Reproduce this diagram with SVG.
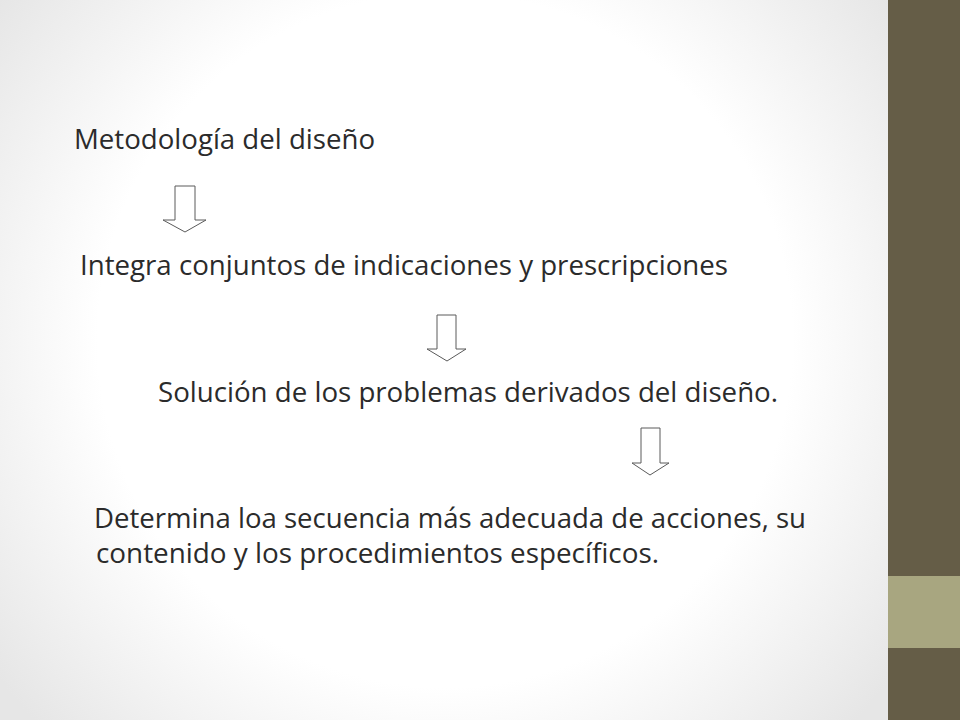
<svg xmlns="http://www.w3.org/2000/svg" width="960" height="720" viewBox="0 0 960 720">
  <defs>
    <radialGradient id="bg" cx="445" cy="340" r="560" gradientUnits="userSpaceOnUse">
      <stop offset="0" stop-color="#ffffff"/>
      <stop offset="0.62" stop-color="#ffffff"/>
      <stop offset="1" stop-color="#e6e6e6"/>
    </radialGradient>
    <style>
      .t { font-family: "Open Sans", "Noto Sans", "Liberation Sans", sans-serif; font-size: 28px; fill: #2b2b2b; }
      .arrow { fill: #ffffff; stroke: #5a5a5a; stroke-width: 1; stroke-linejoin: miter; }
    </style>
  </defs>
  <rect x="0" y="0" width="960" height="720" fill="url(#bg)"/>
  <g id="sidebar">
    <rect x="888" y="0" width="72" height="720" fill="#655d47"/>
    <rect x="888" y="576" width="72" height="72" fill="#a8a680"/>
  </g>
  <g id="node1"><text class="t" x="74" y="149" textLength="301" lengthAdjust="spacingAndGlyphs">Metodología del diseño</text></g>
  <g id="node2"><text class="t" x="80" y="275" textLength="648" lengthAdjust="spacingAndGlyphs">Integra conjuntos de indicaciones y prescripciones</text></g>
  <g id="node3"><text class="t" x="158" y="402" textLength="620" lengthAdjust="spacingAndGlyphs">Solución de los problemas derivados del diseño.</text></g>
  <g id="node4">
    <text class="t" x="94" y="528" textLength="712" lengthAdjust="spacingAndGlyphs">Determina loa secuencia más adecuada de acciones, su</text>
    <text class="t" x="96" y="563" textLength="563" lengthAdjust="spacingAndGlyphs">contenido y los procedimientos específicos.</text>
  </g>
  <g id="connectors">
    <polygon class="arrow" points="175,186 195,186 195,220 206,220 185,232 163,220 175,220"/>
    <polygon class="arrow" points="437,315 456,315 456,349 466,349 447,361 427,349 437,349"/>
    <polygon class="arrow" points="641,428 660,428 660,463 669,463 650,475 632,463 641,463"/>
  </g>
</svg>
